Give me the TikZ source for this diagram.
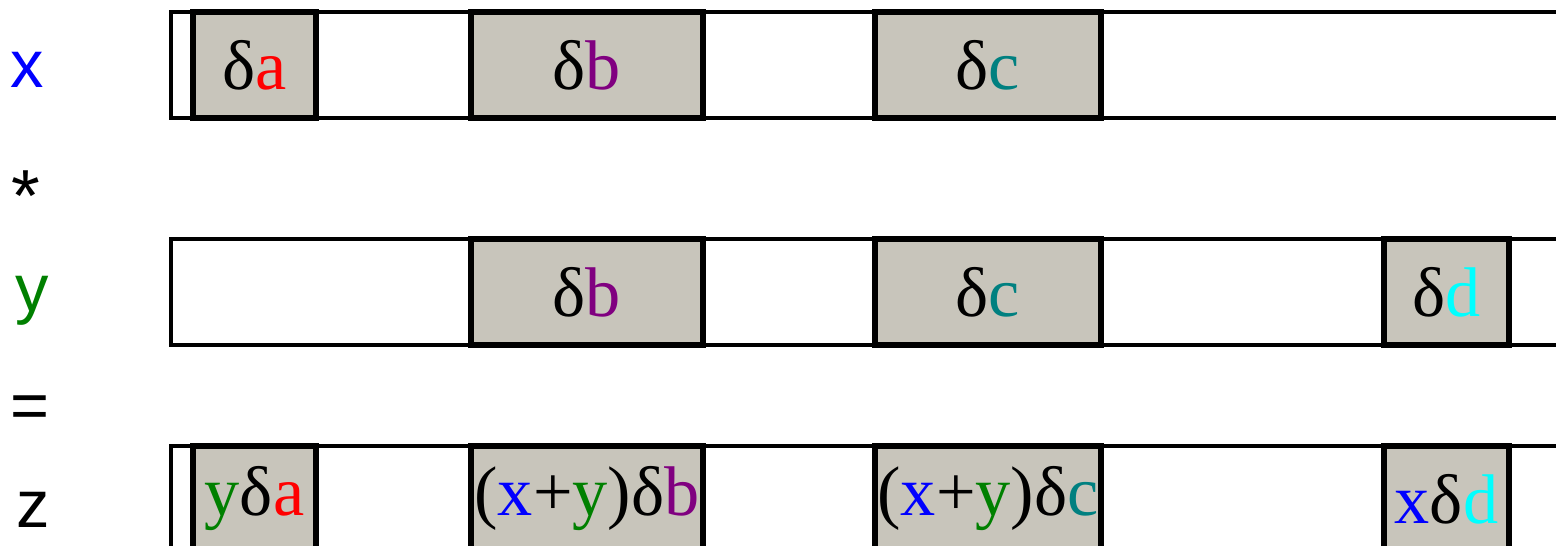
\documentclass[tikz,border=0pt]{standalone}
\usepackage{fontspec}
\setmainfont{Liberation Serif}
\setsansfont{Liberation Sans}
\usetikzlibrary{positioning}
\definecolor{cellgray}{RGB}{200,197,187}
\definecolor{vgreen}{RGB}{0,128,0}
\definecolor{vpurple}{RGB}{128,0,128}
\definecolor{vteal}{RGB}{0,128,128}
\definecolor{vcyan}{RGB}{0,255,255}

\begin{document}
\begin{tikzpicture}[
        lane/.style={draw=black,line width=1.2pt},
        cell/.style={draw=black,fill=cellgray,line width=1.5pt,inner sep=0pt,
                     minimum height=1.06cm,font=\fontsize{20}{22}\selectfont},
        varlabel/.style={font=\sffamily\fontsize{19}{21}\selectfont,
                         anchor=base,inner sep=0pt}
    ]
        \useasboundingbox (0,0) rectangle (15.56,5.46);
        \clip (0,0) rectangle (15.56,5.46);
        % sparse vectors
        \draw[lane] (1.71,4.28) rectangle (15.70,5.34);
        \draw[lane] (1.71,2.01) rectangle (15.70,3.07);
        \draw[lane] (1.71,-0.10) rectangle (15.70,1.00);
        % left labels
        \node[varlabel,text=blue] (lx) at (0.27,4.58) {x};
        \node[varlabel,font=\sffamily\fontsize{21}{23}\selectfont] (lmul) at (0.26,3.24) {*};
        \node[varlabel,text=vgreen] (ly) at (0.32,2.34) {y};
        \node[varlabel] (leq) at (0.30,1.17) {=};
        \node[varlabel] (lz) at (0.33,0.18) {z};
        % row x
        \node[cell,minimum width=1.23cm] (xa) at (2.545,4.81) {δ\textcolor{red}{a}};
        \node[cell,minimum width=2.32cm] (xb) at (5.87,4.81) {δ\textcolor{vpurple}{b}};
        \node[cell,minimum width=2.26cm] (xc) at (9.88,4.81) {δ\textcolor{vteal}{c}};
        % row y
        \node[cell,minimum width=2.32cm] (yb) at (5.87,2.54) {δ\textcolor{vpurple}{b}};
        \node[cell,minimum width=2.26cm] (yc) at (9.88,2.54) {δ\textcolor{vteal}{c}};
        \node[cell,minimum width=1.25cm] (yd) at (14.465,2.54) {δ\textcolor{vcyan}{d}};
        % row z
        \node[cell,minimum width=1.23cm] (za) at (2.545,0.47)
            {\textcolor{vgreen}{y}δ\textcolor{red}{a}};
        \node[cell,minimum width=2.32cm] (zb) at (5.87,0.47)
            {(\textcolor{blue}{x}+\textcolor{vgreen}{y})δ\textcolor{vpurple}{b}};
        \node[cell,minimum width=2.26cm] (zc) at (9.88,0.47)
            {(\textcolor{blue}{x}+\textcolor{vgreen}{y})δ\textcolor{vteal}{c}};
        \node[cell,minimum width=1.25cm] (zd) at (14.465,0.47)
            {\textcolor{blue}{x}δ\textcolor{vcyan}{d}};
    \end{tikzpicture}
\end{document}
